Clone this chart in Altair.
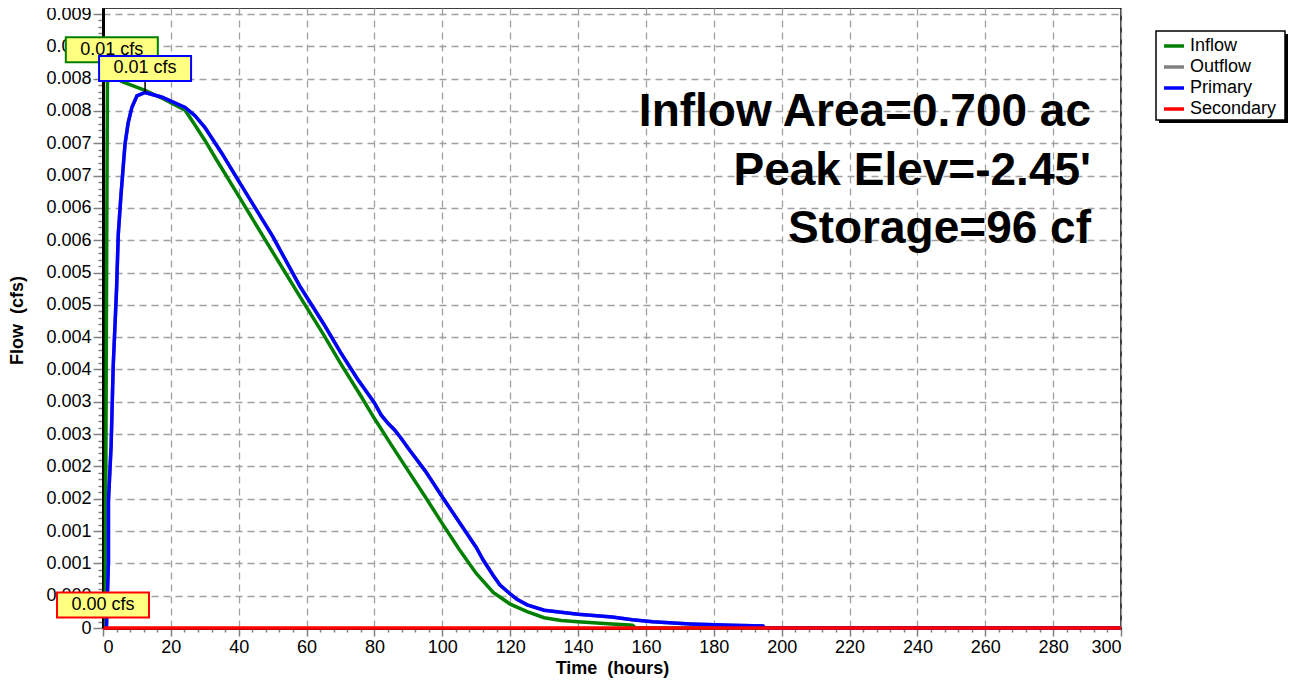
import altair as alt
import pandas as pd

# ---------------- data ----------------
series_names = ["Inflow", "Outflow", "Primary", "Secondary"]
series_colors = ["#008000", "#808080", "#0000ff", "#ff0000"]

inflow_t = [0, 0.6, 0.7, 1.0, 1.3, 2.6, 6, 12.4, 18, 24.2, 27, 30, 33, 40, 50, 58, 65, 70, 76, 80, 85,
            90, 95, 100, 105, 110, 115, 120, 125, 130, 135, 140, 150, 156, 157, 300]
inflow_v = [0, 0, 0.0004, 0.0045, 0.0080, 0.00808, 0.00800, 0.00788, 0.00775, 0.00759, 0.00738, 0.00715,
            0.0069, 0.00633, 0.00551, 0.00486, 0.0043, 0.00388, 0.0034, 0.00307, 0.00268,
            0.0023, 0.00192, 0.00153, 0.00115, 0.00080, 0.00052, 0.00035, 0.00024, 0.00015, 0.00011,
            0.00009, 0.00006, 0.00004, 0, 0]

primary_t = [0, 1.0, 1.1, 1.6, 1.6, 2.4, 3.0, 4.0, 4.5, 5.3, 6.0, 6.5, 7.4, 8.5, 10, 12.4, 17.4, 24.2,
             27.1, 30, 35, 40, 50, 58, 65, 70, 75, 80, 82, 84, 86, 88, 90, 95, 100, 105, 110, 112,
             115, 117, 120, 122, 125, 130, 140, 150, 156, 162, 173, 185, 194.5, 195, 300]
primary_v = [0, 0, 0.00016, 0.00096, 0.00186, 0.00268, 0.00383, 0.00497, 0.00577, 0.00635, 0.00679,
             0.0071, 0.0074, 0.00763, 0.0078, 0.00785, 0.00778, 0.00763, 0.00751, 0.00734, 0.00696,
             0.00655, 0.00574, 0.00501, 0.00446, 0.00404, 0.00365, 0.0033, 0.00312, 0.00300, 0.00290,
             0.00277, 0.00263, 0.0023, 0.00192, 0.00155, 0.00118, 0.00100, 0.00077, 0.00063, 0.0005,
             0.00042, 0.00034, 0.00026, 0.0002, 0.00016, 0.00012, 0.00009, 0.00006, 0.00004, 0.00003,
             0, 0]

outflow_t = list(primary_t)
outflow_v = list(primary_v)

secondary_t = [0, 300]
secondary_v = [0, 0]

peak_series = ["Inflow", "Primary", "Secondary"]
peak_t = [2.6, 12.4, 0]
peak_v = [0.00808, 0.00785, 0]
peak_text = ["0.01 cfs", "0.01 cfs", "0.00 cfs"]

info_lines = ["Inflow Area=0.700 ac", "Peak Elev=-2.45'", "Storage=96 cf"]

# ---------------- tables ----------------
rows = []
for name, ts, vs in [("Inflow", inflow_t, inflow_v), ("Outflow", outflow_t, outflow_v),
                     ("Primary", primary_t, primary_v), ("Secondary", secondary_t, secondary_v)]:
    for i, (t, v) in enumerate(zip(ts, vs)):
        rows.append({"series": name, "t": t, "v": v, "i": i})
df = pd.DataFrame(rows)

peaks = pd.DataFrame({"series": peak_series, "t": peak_t, "v": peak_v, "label": peak_text})

FONT = "Liberation Sans"
W, H = 1018, 620
Y_MAX = 0.009088
major_step = 0.009 / 19
y_ticks = [k * major_step / 5 for k in range(96)]
x_ticks = list(range(0, 301, 4))

y_major = f"abs(datum.value/{major_step} - round(datum.value/{major_step})) < 0.01"
x_major = "datum.value % 20 == 0"

x_scale = alt.Scale(domain=[0, 300], nice=False, zero=False)
y_scale = alt.Scale(domain=[0, Y_MAX], nice=False, zero=False)
color_scale = alt.Scale(domain=series_names, range=series_colors)

x_axis = alt.Axis(
    values=x_ticks,
    labelExpr=f"{x_major} ? format(datum.value, 'd') : ''",
    labelOverlap=False,
    title="Time\u00a0\u00a0(hours)",
    titleX=W / 2, titleY=40, titleBaseline="middle",
    tickSize={"condition": {"test": x_major, "value": 8}, "value": 4},
    gridOpacity={"condition": {"test": x_major, "value": 1}, "value": 0},
)
y_axis = alt.Axis(
    values=y_ticks,
    labelExpr=f"({y_major}) ? (datum.value == 0 ? '0' : format(datum.value, '.3f')) : ''",
    labelOverlap=False,
    title="Flow\u00a0\u00a0(cfs)",
    titleX=-86, titleY=312, titleBaseline="middle", titleAngle=-90,
    tickSize={"condition": {"test": y_major, "value": 10}, "value": 5},
    gridOpacity={"condition": {"test": y_major, "value": 1}, "value": 0},
)

color = alt.Color("series:N", scale=color_scale, legend=None)

X = alt.X("t:Q", scale=x_scale, axis=x_axis)
Y = alt.Y("v:Q", scale=y_scale, axis=y_axis)

base = alt.Chart(df).encode(x=X, y=Y, color=color, order="i:Q")

lines = []
for name in ["Inflow", "Outflow", "Primary", "Secondary"]:
    lines.append(base.transform_filter(alt.datum.series == name).mark_line(strokeWidth=3.5))

# ---------------- legend box (drawn outside the plot area) ----------------
one = pd.DataFrame({"a": [0]})
shadow = alt.Chart(one).mark_rect(color="black").encode(
    x=alt.value(1056), x2=alt.value(1185), y=alt.value(26), y2=alt.value(115))
legend_box = alt.Chart(one).mark_rect(fill="white", stroke="black", strokeWidth=1.5).encode(
    x=alt.value(1053), x2=alt.value(1182), y=alt.value(23), y2=alt.value(112))
legend_layers = [shadow, legend_box]
for k, name in enumerate(series_names):
    ypix = 38 + 21 * k
    ldf = pd.DataFrame({"series": [name]})
    legend_layers.append(
        alt.Chart(ldf).mark_rule(strokeWidth=3.5).encode(
            x=alt.value(1061), x2=alt.value(1081), y=alt.value(ypix), color=color))
    legend_layers.append(
        alt.Chart(ldf).mark_text(font=FONT, fontSize=18, align="left", baseline="middle",
                                 color="black").encode(
            text="series:N", x=alt.value(1087), y=alt.value(ypix)))

# ---------------- peak label boxes ----------------
box_layers = []
offsets = {"Inflow": -27, "Primary": -24, "Secondary": -23}
box_path = "M -1 -0.2717 L 1 -0.2717 L 1 0.2717 L -1 0.2717 Z"
for name, col in [("Inflow", "#008000"), ("Primary", "#0000ff"), ("Secondary", "#ff0000")]:
    pdata = alt.Chart(peaks).transform_filter(alt.datum.series == name).encode(x=X, y=Y)
    conn = pdata.mark_tick(orient="vertical", size=12, thickness=1.5, color="black",
                           yOffset=-6, opacity=1)
    box = pdata.mark_point(shape=box_path, size=92 * 92, filled=True, fill="#ffff80",
                           stroke=col, strokeWidth=2, opacity=1, yOffset=offsets[name])
    txt = pdata.mark_text(font=FONT, fontSize=18, color="black", align="center",
                          baseline="middle", yOffset=offsets[name]).encode(text="label:N")
    box_layers += [conn, box, txt]

# ---------------- info text ----------------
info_layers = []
for line, ypix in zip(info_lines, [104, 163, 221]):
    info_layers.append(
        alt.Chart(pd.DataFrame({"txt": [line]})).mark_text(
            font=FONT, fontSize=46, fontWeight="bold", align="right", baseline="middle",
            color="black"
        ).encode(text="txt:N", x=alt.value(988), y=alt.value(ypix))
    )

chart = alt.layer(*lines, *box_layers, *info_layers, *legend_layers).properties(
    width=W, height=H,
    autosize=alt.AutoSizeParams(type="none"),
    padding={"left": 95, "top": 0, "right": 167, "bottom": 50},
).configure(font=FONT).configure_view(
    stroke="black", strokeWidth=1.5
).configure_axis(
    labelFont=FONT, labelFontSize=18, labelColor="black", labelPadding=2,
    titleFont=FONT, titleFontSize=18, titleFontWeight="bold", titleColor="black",
    domainColor="black", domainWidth=3, tickColor="#808080", tickWidth=1.5,
    gridColor="#a0a0a0", gridDash=[7, 5], gridWidth=1.3,
)

chart.save("out.html", embed_options={"renderer": "svg", "actions": False})
